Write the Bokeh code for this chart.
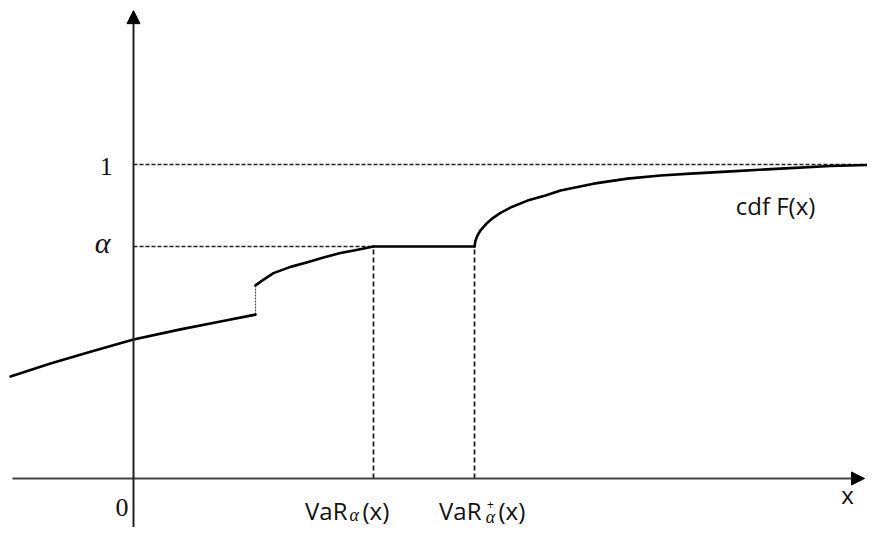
from bokeh.plotting import figure
from bokeh.models import Range1d, Arrow, NormalHead
from bokeh.core.properties import value
from bokeh.embed import file_html
from bokeh.resources import INLINE

# ---- data (math units) ----
alpha = 0.739
var_alpha = 2.40
var_alpha_plus = 3.41
jump_x = 1.22

seg1_x = [-1.23, -0.83, -0.43, 0.0, 0.47, 0.87, 1.22]
seg1_y = [0.325, 0.366, 0.404, 0.443, 0.475, 0.500, 0.522]
seg2_x = [1.22, 1.29, 1.40, 1.57, 1.74, 1.90, 2.07, 2.23, 2.40]
seg2_y = [0.615, 0.631, 0.654, 0.674, 0.689, 0.704, 0.718, 0.728, 0.739]
seg3_x = [3.41, 3.42, 3.44, 3.47, 3.53, 3.60, 3.67, 3.77, 3.94, 4.12, 4.27,
          4.60, 4.94, 5.27, 5.57, 6.02, 6.47, 6.97, 7.47]
seg3_y = [0.739, 0.758, 0.774, 0.790, 0.812, 0.831, 0.846, 0.863, 0.885, 0.901, 0.917,
          0.939, 0.955, 0.965, 0.971, 0.979, 0.987, 0.995, 1.0]

x_min, x_max = -1.21, 7.31
y_min, y_max = -0.2, 1.49

p = figure(width=867, height=527, x_range=Range1d(-1.33, 7.34), y_range=Range1d(-0.156, 1.5223),
           x_axis_type=None, y_axis_type=None, min_border=0,
           output_backend="svg", toolbar_location=None)
p.grid.visible = False
p.outline_line_color = None

# axes with arrows
p.add_layout(Arrow(end=NormalHead(size=13, fill_color="black", line_color="black"),
                   x_start=x_min, y_start=0, x_end=x_max, y_end=0,
                   line_color="#444444", line_width=2))
p.add_layout(Arrow(end=NormalHead(size=13, fill_color="black", line_color="black"),
                   x_start=0, y_start=y_min, x_end=0, y_end=y_max,
                   line_color="#222222", line_width=2))

dash_col = "#222222"
# dashed reference lines
p.line([0, seg3_x[-1]], [1, 1], line_color=dash_col, line_width=1.5, line_dash="4 2")
p.line([0, var_alpha], [alpha, alpha], line_color=dash_col, line_width=1.5, line_dash="4 2")
p.line([var_alpha, var_alpha], [0, alpha], line_color=dash_col, line_width=1.8, line_dash="5 3")
p.line([var_alpha_plus, var_alpha_plus], [0, alpha], line_color=dash_col, line_width=1.8, line_dash="5 3")
p.line([jump_x, jump_x], [seg1_y[-1], seg2_y[0]], line_color="#555555", line_width=1.2, line_dash="2 1")

# cdf curve
for xs, ys in [(seg1_x, seg1_y), (seg2_x, seg2_y),
               ([var_alpha, var_alpha_plus], [alpha, alpha]), (seg3_x, seg3_y)]:
    p.line(xs, ys, line_color="black", line_width=2.6, line_join="round", line_cap="round")

serif = value("Liberation Serif")
sans = value("Open Sans")
tc = "#111111"

# axis labels
p.text(x=[0], y=[1], text=["1"], text_font=serif, text_font_size="25px",
       text_align="right", text_baseline="middle", x_offset=-21, y_offset=2, text_color=tc)
p.text(x=[0], y=[alpha], text=["α"], text_font=serif, text_font_style="italic", text_font_size="30px",
       text_align="right", text_baseline="middle", x_offset=-23, y_offset=-4, text_color=tc)
p.text(x=[0], y=[0], text=["0"], text_font=serif, text_font_size="26px",
       text_align="right", text_baseline="middle", x_offset=-5, y_offset=29, text_color=tc)
p.text(x=[x_max], y=[0], text=["x"], text_font=sans, text_font_size="24px",
       text_align="center", text_baseline="middle", x_offset=-17, y_offset=16, text_color=tc)

# VaR labels
vy = 32
p.text(x=[var_alpha], y=[0], text=["VaR"], text_font=sans, text_font_size="24px",
       text_align="right", text_baseline="middle", x_offset=-26, y_offset=vy, text_color=tc)
p.text(x=[var_alpha], y=[0], text=["α"], text_font=serif, text_font_style="italic", text_font_size="18px",
       text_align="left", text_baseline="middle", x_offset=-24, y_offset=vy + 4, text_color=tc)
p.text(x=[var_alpha], y=[0], text=["(x)"], text_font=sans, text_font_size="24px",
       text_align="left", text_baseline="middle", x_offset=-11, y_offset=vy, text_color=tc)

p.text(x=[var_alpha_plus], y=[0], text=["VaR"], text_font=sans, text_font_size="24px",
       text_align="right", text_baseline="middle", x_offset=7, y_offset=vy, text_color=tc)
p.text(x=[var_alpha_plus], y=[0], text=["+"], text_font=sans, text_font_size="12px",
       text_align="center", text_baseline="middle", x_offset=16, y_offset=vy - 6, text_color=tc)
p.text(x=[var_alpha_plus], y=[0], text=["α"], text_font=serif, text_font_style="italic", text_font_size="18px",
       text_align="center", text_baseline="middle", x_offset=16, y_offset=vy + 6, text_color=tc)
p.text(x=[var_alpha_plus], y=[0], text=["(x)"], text_font=sans, text_font_size="24px",
       text_align="left", text_baseline="middle", x_offset=24, y_offset=vy, text_color=tc)

# curve label
p.text(x=[6.42], y=[0.869], text=["cdf F(x)"], text_font=sans, text_font_size="24px",
       text_align="center", text_baseline="middle", text_color=tc)

open("out.html", "w").write(file_html(p, INLINE))
